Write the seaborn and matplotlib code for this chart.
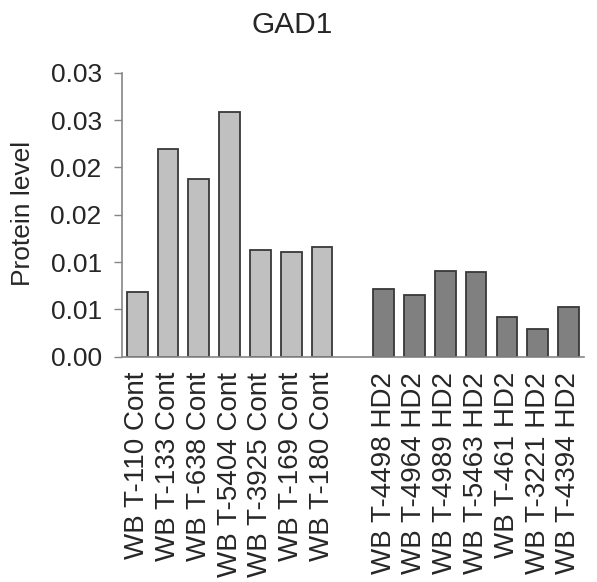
import numpy as np
import pandas as pd
import matplotlib
matplotlib.use("Agg")
import matplotlib.pyplot as plt
import seaborn as sns

cont_labels = ["WB T-110 Cont", "WB T-133 Cont", "WB T-638 Cont", "WB T-5404 Cont",
               "WB T-3925 Cont", "WB T-169 Cont", "WB T-180 Cont"]
cont_values = [0.0068, 0.0219, 0.0188, 0.0259, 0.0113, 0.0111, 0.0116]

hd_labels = ["WB T-4498 HD2", "WB T-4964 HD2", "WB T-4989 HD2", "WB T-5463 HD2",
             "WB T-461 HD2", "WB T-3221 HD2", "WB T-4394 HD2"]
hd_values = [0.0072, 0.0065, 0.0091, 0.0090, 0.0042, 0.0029, 0.0053]

yticks = [0, 0.005, 0.01, 0.015, 0.02, 0.025, 0.03]
ytick_labels = ["0.00", "0.01", "0.01", "0.02", "0.02", "0.03", "0.03"]

df = pd.DataFrame({
    "sample": cont_labels + hd_labels,
    "level": cont_values + hd_values,
    "group": ["Cont"] * len(cont_labels) + ["HD2"] * len(hd_labels),
})
gap = " "
order = cont_labels + [gap] + hd_labels

sns.set_style("white")
plt.rcParams["font.family"] = ["Liberation Sans", "DejaVu Sans"]

fig = plt.figure(figsize=(5.97, 5.82), dpi=100)
ax = fig.add_axes([0.204, 0.387, 0.774, 0.488])

sns.barplot(data=df, x="sample", y="level", hue="group", order=order,
            palette={"Cont": "#C0C0C0", "HD2": "#808080"}, dodge=False,
            width=0.67, edgecolor="#383838", linewidth=1.3, legend=False, ax=ax)

ax.set_ylim(0, 0.03)
ax.set_xlim(-0.5, len(order) - 0.5)
ax.set_yticks(yticks)
ax.set_yticklabels(ytick_labels, fontsize=19)
ax.set_xticks([i for i, s in enumerate(order) if s != gap])
ax.set_xticklabels(cont_labels + hd_labels, rotation=90, fontsize=20)
ax.tick_params(axis="y", length=5.5, width=1, color="#868686", pad=9, left=True)
ax.tick_params(axis="x", length=0, pad=11)
ax.set_xlabel("")
ax.set_ylabel("Protein level", fontsize=19)
ax.yaxis.set_label_coords(-0.1875, 0.503)
fig.suptitle("GAD1", fontsize=21.5, x=0.49, y=1 - 25 / 582, va="center")

for side in ["top", "right"]:
    ax.spines[side].set_visible(False)
for side in ["left", "bottom"]:
    ax.spines[side].set_color("#868686")
    ax.spines[side].set_linewidth(1.2)

fig.savefig("out.png", dpi=100)
